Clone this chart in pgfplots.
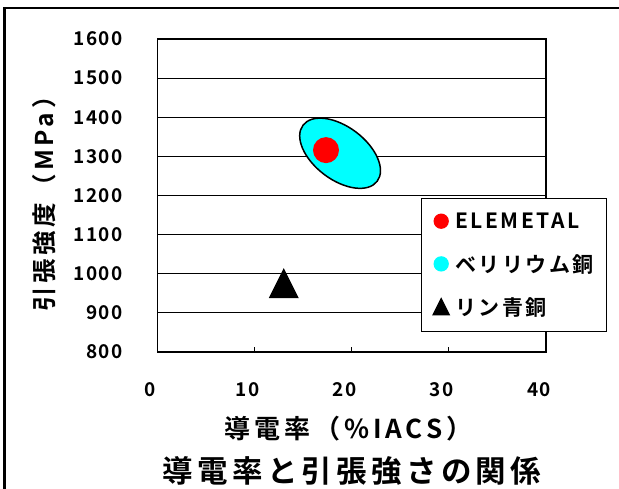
\documentclass[border=0pt]{standalone}
\usepackage{fontspec}
\setmainfont{Noto Sans CJK JP Bold}
\newfontfamily\jp{Noto Sans CJK JP Bold}[LetterSpace=15]
\newfontfamily\jpti{Noto Sans CJK JP Bold}[LetterSpace=14]
\newfontfamily\jpl{Noto Sans CJK JP Bold}[LetterSpace=12]
\newfontfamily\jpt{Noto Sans CJK JP Bold}[LetterSpace=7]
\usepackage{pgfplots}
\pgfplotsset{compat=1.18}
\definecolor{aqua}{RGB}{0,255,255}
\pgfdeclareplotmark{ell}{%
  \pgfpathellipse{\pgfpointorigin}{\pgfqpoint{37.1pt}{-28pt}}{\pgfqpoint{15.95pt}{21.16pt}}%
  \pgfusepathqfillstroke}
\pgfdeclareplotmark{reddot}{%
  \pgfpathcircle{\pgfpointorigin}{13pt}\pgfusepathqfill}
\pgfdeclareplotmark{bigtri}{%
  \pgfpathmoveto{\pgfqpoint{-15pt}{-15pt}}%
  \pgfpathlineto{\pgfqpoint{15pt}{-15pt}}%
  \pgfpathlineto{\pgfqpoint{0pt}{15pt}}%
  \pgfpathclose\pgfusepathqfill}
\begin{document}
\begin{tikzpicture}[x=1pt,y=1pt]
\path[use as bounding box] (0,0) rectangle (619,489);
\draw[line width=2.2pt] (4.5,-3) -- (4.5,481) -- (625,481);
\begin{axis}[
  at={(157.5pt,137pt)}, anchor=south west,
  scale only axis, width=388.5pt, height=313pt,
  xmin=0, xmax=40, ymin=800, ymax=1600,
  xtick={0,10,20,30,40}, ytick={800,900,...,1600},
  ymajorgrids, grid style={black, line width=1.2pt},
  axis line style={black, line width=1.5pt},
  xtick pos=left, tick align=inside, major tick length=5pt,
  xtick style={black, line width=1.2pt},
  ytick style={draw=none},
  /pgf/number format/assume math mode=true,
  /pgf/number format/1000 sep={},
  xticklabel style={font=\jpt\fontsize{19}{19}\selectfont, anchor=north, inner sep=0pt, yshift=-30pt, xshift=-7pt},
  yticklabel style={font=\jpt\fontsize{19}{19}\selectfont, anchor=east, inner sep=0pt, xshift=-35pt},
  xlabel={導電率（\%IACS）},
  ylabel={引張強度（MPa）},
  title={導電率と引張強さの関係},
  xlabel style={font=\jp\fontsize{26}{26}\selectfont, at={(axis description cs:0.4916,-0.246)}, anchor=center},
  ylabel style={font=\jp\fontsize{24.5}{24.5}\selectfont, at={(axis description cs:-0.292,0.492)}, anchor=center},
  title style={font=\jpti\fontsize{30.5}{30.5}\selectfont, at={(axis description cs:0.5006,-0.40)}, anchor=center},
  legend style={at={(axis description cs:0.678,0.492)}, anchor=north west,
    draw=black, line width=1.3pt, fill=white,
    font=\jpl\fontsize{21}{21}\selectfont,
    inner xsep=11pt, inner ysep=12pt, row sep=20.5pt,
    nodes={inner sep=2pt}},
  legend cell align=left,
]
\addplot[only marks, mark=ell, mark options={fill=aqua, draw=black, line width=1.5pt}, forget plot]
  coordinates {(18.8,1308)};
\addplot[only marks, mark=reddot, mark options={fill=red, draw=none},
  legend image code/.code={\fill[red] (7pt,0pt) circle (7pt); \path[draw=none,fill=none] (0,-7pt) rectangle (19pt,7pt);}]
  coordinates {(17.35,1316)};
\addlegendentry{ELEMETAL}
\addlegendimage{legend image code/.code={\fill[aqua] (7pt,0pt) circle (7pt); \path[draw=none,fill=none] (0,-7pt) rectangle (19pt,7pt);}}
\addlegendentry{ベリリウム銅}
\addplot[only marks, mark=bigtri, mark options={fill=black, draw=none},
  legend image code/.code={\fill[black] (-1pt,-7pt) -- (15pt,-7pt) -- (7pt,9pt) -- cycle; \path[draw=none,fill=none] (0,-7pt) rectangle (19pt,7pt);}]
  coordinates {(13.0,976)};
\addlegendentry{リン青銅}
\end{axis}
\end{tikzpicture}
\end{document}
